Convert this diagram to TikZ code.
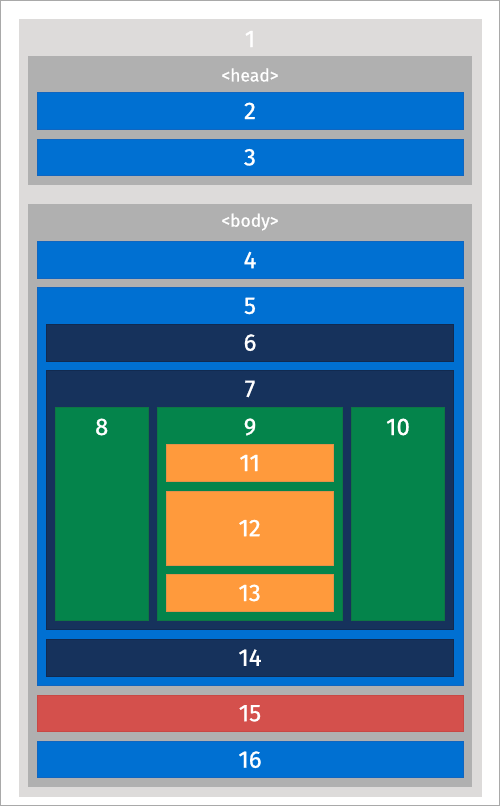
\documentclass[tikz,border=0pt]{standalone}
\usepackage{fontspec}
\setmainfont{Fira Sans}
\newfontfamily\labfont{Fira Sans}[FakeBold=0.9]
\usetikzlibrary{fit}
\definecolor{framec}{HTML}{A9A9A9}
\definecolor{lgray}{HTML}{DDDBDA}
\definecolor{mgray}{HTML}{B0B0B0}
\definecolor{sfblue}{HTML}{0070D2}
\definecolor{sfblueb}{HTML}{1066C0}
\definecolor{sfnavy}{HTML}{16325C}
\definecolor{sfnavyb}{HTML}{112A50}
\definecolor{sfgreen}{HTML}{04844B}
\definecolor{sfgreenb}{HTML}{0E7644}
\definecolor{sforange}{HTML}{FF9A3C}
\definecolor{sforangeb}{HTML}{E4904A}
\definecolor{sfred}{HTML}{D4504C}
\definecolor{sfredb}{HTML}{C84844}
\tikzset{
  box/.style={inner sep=0pt, outer sep=0pt, line width=0.7pt},
  grayouter/.style={box, fill=lgray},
  graybox/.style={box, fill=mgray},
  bluebox/.style={box, fill=sfblue, draw=sfblueb},
  navybox/.style={box, fill=sfnavy, draw=sfnavyb},
  greenbox/.style={box, fill=sfgreen, draw=sfgreenb},
  orangebox/.style={box, fill=sforange, draw=sforangeb},
  redbox/.style={box, fill=sfred, draw=sfredb},
  num/.style={text=white, font=\labfont\fontsize{24}{24}\selectfont, inner sep=0pt},
  tag/.style={text=white, font=\labfont\fontsize{17.5}{17.5}\selectfont, inner sep=0pt},
}
\begin{document}
\begin{tikzpicture}[x=1pt, y=-1pt]
\useasboundingbox (0,0) rectangle (500,806);
\draw[framec, line width=1pt] (0.5,0.5) rectangle (499.5,805.5);
% 1
\node[grayouter, fit={(18.5,18.5) (481.5,796.5)}] (b1) {};
\node[num] (t1) at (250,39) {1};
% head
\node[graybox, fit={(28,56) (472,185)}] (head) {};
\node[tag] (thead) at (250,75) {<head>};
\node[bluebox, fit={(37,92.7) (463,129)}] (b2) {};
\node[num] (t2) at (b2.center) {2};
\node[bluebox, fit={(37,139) (463,175.7)}] (b3) {};
\node[num] (t3) at (b3.center) {3};
% body
\node[graybox, fit={(28,204) (472,787.3)}] (body) {};
\node[tag] (tbody) at (250,222) {<body>};
\node[bluebox, fit={(37,241.7) (463,278.3)}] (b4) {};
\node[num] (t4) at (b4.center) {4};
\node[bluebox, fit={(37,287.7) (463,685)}] (b5) {};
\node[num] (t5) at (250,306) {5};
\node[navybox, fit={(46.7,324.3) (453.3,361)}] (b6) {};
\node[num] (t6) at (b6.center) {6};
\node[navybox, fit={(46.7,370.7) (453.3,629.3)}] (b7) {};
\node[num] (t7) at (250,389) {7};
\node[greenbox, fit={(55,407.3) (148.3,620.7)}] (b8) {};
\node[num] (t8) at (101.7,427) {8};
\node[greenbox, fit={(157,407.3) (342.7,620.7)}] (b9) {};
\node[num] (t9) at (250,427) {9};
\node[greenbox, fit={(351.7,407.3) (444.3,620.7)}] (b10) {};
\node[num] (t10) at (398,427) {10};
\node[orangebox, fit={(166,444.3) (333.3,481.7)}] (b11) {};
\node[num] (t11) at (b11.center) {11};
\node[orangebox, fit={(166,491) (333.3,565)}] (b12) {};
\node[num] (t12) at (b12.center) {12};
\node[orangebox, fit={(166,574.3) (333.3,611.7)}] (b13) {};
\node[num] (t13) at (b13.center) {13};
\node[navybox, fit={(46.7,639.3) (453.3,676)}] (b14) {};
\node[num] (t14) at (b14.center) {14};
\node[redbox, fit={(37,695) (463,731.7)}] (b15) {};
\node[num] (t15) at (b15.center) {15};
\node[bluebox, fit={(37,741.7) (463,777.7)}] (b16) {};
\node[num] (t16) at (b16.center) {16};
\end{tikzpicture}
\end{document}
